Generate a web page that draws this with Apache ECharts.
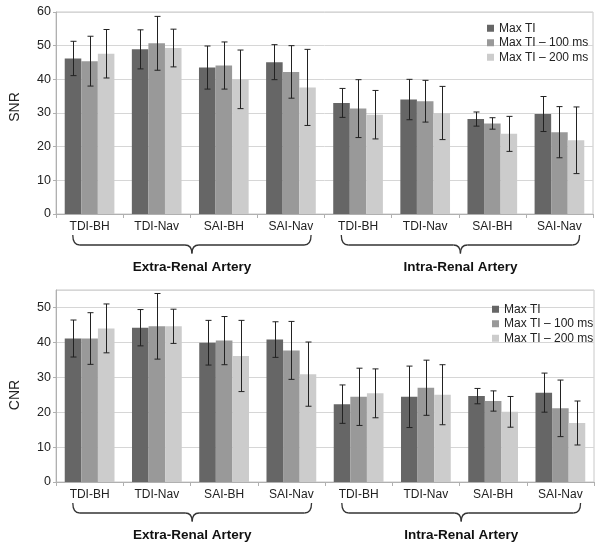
<!DOCTYPE html>
<html lang="en">
<head>
<meta charset="UTF-8">
<title>SNR / CNR</title>
<style>
    *{margin:0;padding:0;}
    body{background:#fff;}
    #main{width:600px;height:552px;}
</style>
</head>
<body>
<div id="main"></div>
<script src="https://cdn.jsdelivr.net/npm/echarts@6/dist/echarts.min.js"></script>
<script>
    // categories / groups
    const categories = ['TDI-BH', 'TDI-Nav', 'SAI-BH', 'SAI-Nav', 'TDI-BH', 'TDI-Nav', 'SAI-BH', 'SAI-Nav'];
    const groups = ['Extra-Renal Artery', 'Intra-Renal Artery'];
    const groupRanges = [[0, 3], [4, 7]];
    const seriesNames = ['Max TI', 'Max TI \u2013 100 ms', 'Max TI \u2013 200 ms'];
    const colors = ['#666666', '#999999', '#cccccc'];

    // SNR (mean, sd)
    const snrMax    = [46.2, 48.9, 43.5, 45.1, 33.0, 34.0, 28.2, 29.7];
    const snrMaxSd  = [5.1, 5.8, 6.4, 5.2, 4.3, 6.0, 2.1, 5.2];
    const snr100    = [45.4, 50.7, 44.1, 42.2, 31.3, 33.5, 26.9, 24.3];
    const snr100Sd  = [7.4, 8.0, 7.0, 7.8, 8.6, 6.2, 1.7, 7.6];
    const snr200    = [47.6, 49.3, 40.0, 37.6, 29.5, 30.0, 23.8, 21.9];
    const snr200Sd  = [7.2, 5.6, 8.7, 11.3, 7.2, 7.9, 5.2, 9.9];

    // CNR (mean, sd)
    const cnrMax    = [41.1, 44.2, 39.9, 40.8, 22.3, 24.4, 24.6, 25.6];
    const cnrMaxSd  = [5.3, 5.2, 6.4, 5.1, 5.5, 8.8, 2.2, 5.6];
    const cnr100    = [41.1, 44.6, 40.5, 37.7, 24.4, 27.0, 23.2, 21.1];
    const cnr100Sd  = [7.4, 9.4, 6.9, 8.3, 8.2, 7.9, 2.9, 8.1];
    const cnr200    = [44.0, 44.6, 36.1, 30.9, 25.4, 25.0, 20.1, 16.9];
    const cnr200Sd  = [7.0, 4.9, 10.2, 9.2, 7.0, 8.6, 4.4, 6.3];

    const snrMeans = [snrMax, snr100, snr200];
    const snrSds = [snrMaxSd, snr100Sd, snr200Sd];
    const cnrMeans = [cnrMax, cnr100, cnr200];
    const cnrSds = [cnrMaxSd, cnr100Sd, cnr200Sd];

    const FONT = 'Liberation Sans';
    const CAT_GAP = 0.26;

    let chart = echarts.init(document.getElementById('main'));

    function errData(means, sds) {
        let out = [];
        for (let s = 0; s < means.length; s++) {
            for (let i = 0; i < means[s].length; i++) {
                out.push([i, s, means[s][i] - sds[s][i], means[s][i] + sds[s][i]]);
            }
        }
        return out;
    }

    function errorItem(params, api) {
        let cat = api.value(0), s = api.value(1);
        let lo = api.coord([cat, api.value(2)]);
        let hi = api.coord([cat, api.value(3)]);
        let catW = api.size([1, 0])[0];
        let barW = catW * (1 - CAT_GAP) / 3;
        let x = Math.round(lo[0] + (s - 1) * barW) + 0.5;
        let cap = 3;
        let st = {stroke: '#222', lineWidth: 1};
        return {
            type: 'group',
            children: [
                {type: 'line', shape: {x1: x, y1: hi[1], x2: x, y2: lo[1]}, style: st},
                {type: 'line', shape: {x1: x - cap, y1: hi[1], x2: x + cap, y2: hi[1]}, style: st},
                {type: 'line', shape: {x1: x - cap, y1: lo[1], x2: x + cap, y2: lo[1]}, style: st}
            ]
        };
    }

    function xAxisFor(idx) {
        return {
            type: 'category',
            gridIndex: idx,
            data: categories,
            axisLine: {lineStyle: {color: '#b0b0b0'}},
            axisTick: {show: true, length: 4, lineStyle: {color: '#b0b0b0'}},
            axisLabel: {color: '#222', fontFamily: FONT, fontSize: 12, margin: 7, interval: 0}
        };
    }

    function yAxisFor(idx, name, max, pad) {
        return {
            type: 'value',
            gridIndex: idx,
            min: 0,
            max: max,
            interval: 10,
            name: name,
            nameLocation: 'middle',
            nameGap: 34,
            nameTextStyle: {color: '#222', fontFamily: FONT, fontSize: 14, padding: pad},
            axisLine: {show: true, lineStyle: {color: '#b0b0b0'}},
            axisTick: {show: true, length: 3, lineStyle: {color: '#b0b0b0'}},
            axisLabel: {color: '#222', fontFamily: FONT, fontSize: 12.5, margin: 5, showMaxLabel: max % 10 === 0},
            splitLine: {lineStyle: {color: '#d6d6d6'}}
        };
    }

    let series = [];
    for (let g = 0; g < 2; g++) {
        let means = g === 0 ? snrMeans : cnrMeans;
        for (let s = 0; s < 3; s++) {
            series.push({
                name: seriesNames[s],
                type: 'bar',
                xAxisIndex: g,
                yAxisIndex: g,
                data: means[s],
                barGap: '0%',
                barCategoryGap: (CAT_GAP * 100) + '%',
                itemStyle: {color: colors[s]},
                emphasis: {disabled: true}
            });
        }
        series.push({
            type: 'custom',
            xAxisIndex: g,
            yAxisIndex: g,
            renderItem: errorItem,
            data: g === 0 ? errData(snrMeans, snrSds) : errData(cnrMeans, cnrSds),
            encode: {x: 0, y: [2, 3]},
            clip: false,
            z: 5,
            silent: true
        });
    }

    function legendFor(left, top) {
        return {
            data: seriesNames,
            orient: 'vertical',
            left: left,
            top: top,
            icon: 'rect',
            itemWidth: 7,
            itemHeight: 7,
            itemGap: 0,
            selectedMode: false,
            textStyle: {color: '#222', fontFamily: FONT, fontSize: 12, lineHeight: 14.5}
        };
    }

    chart.setOption({
        animation: false,
        legend: [legendFor(482, 16), legendFor(487, 297)],
        grid: [
            {left: 49, right: 7, top: 12, height: 202, show: true, borderColor: '#c8c8c8', borderWidth: 1},
            {left: 50, right: 6, top: 290, height: 192, show: true, borderColor: '#c8c8c8', borderWidth: 1}
        ],
        xAxis: [xAxisFor(0), xAxisFor(1)],
        yAxis: [yAxisFor(0, 'SNR', 60, [0, 0, 0, 12]), yAxisFor(1, 'CNR', 55, [0, 18, 0, 0])],
        series: series
    });

    // curly braces + group titles under each x axis
    let graphics = [];
    let braceStyle = {fill: null, stroke: '#333', lineWidth: 1.3};
    function curve(xa, ya, xb, yb, cx, cy) {
        graphics.push({
            type: 'bezierCurve',
            shape: {x1: xa, y1: ya, x2: xb, y2: yb, cpx1: cx, cpy1: cy},
            style: braceStyle
        });
    }
    function straight(xa, ya, xb, yb) {
        graphics.push({
            type: 'line',
            shape: {x1: xa, y1: ya, x2: xb, y2: yb},
            style: braceStyle
        });
    }
    for (let g = 0; g < 2; g++) {
        let y0 = chart.convertToPixel({yAxisIndex: g}, 0);
        let catW = chart.convertToPixel({xAxisIndex: g}, 1) - chart.convertToPixel({xAxisIndex: g}, 0);
        let yt = y0 + 21, yl = y0 + 31, yp = y0 + 39.5;
        for (let k = 0; k < groups.length; k++) {
            let x0 = chart.convertToPixel({xAxisIndex: g}, groupRanges[k][0]) - 0.25 * catW;
            let x1 = chart.convertToPixel({xAxisIndex: g}, groupRanges[k][1]) + 0.3 * catW;
            let xm = (x0 + x1) / 2;
            let r = 7;
            curve(x0, yt, x0 + r, yl, x0, yl);
            straight(x0 + r, yl, xm - r, yl);
            curve(xm - r, yl, xm, yp, xm, yl);
            curve(xm, yp, xm + r, yl, xm, yl);
            straight(xm + r, yl, x1 - r, yl);
            curve(x1 - r, yl, x1, yt, x1, yl);
            graphics.push({
                type: 'text',
                x: xm,
                y: y0 + 53,
                style: {
                    text: groups[k],
                    fill: '#111',
                    font: 'bold 13.5px "Liberation Sans"',
                    textAlign: 'center',
                    textVerticalAlign: 'middle'
                }
            });
        }
    }
    chart.setOption({graphic: graphics});
</script>
</body>
</html>
